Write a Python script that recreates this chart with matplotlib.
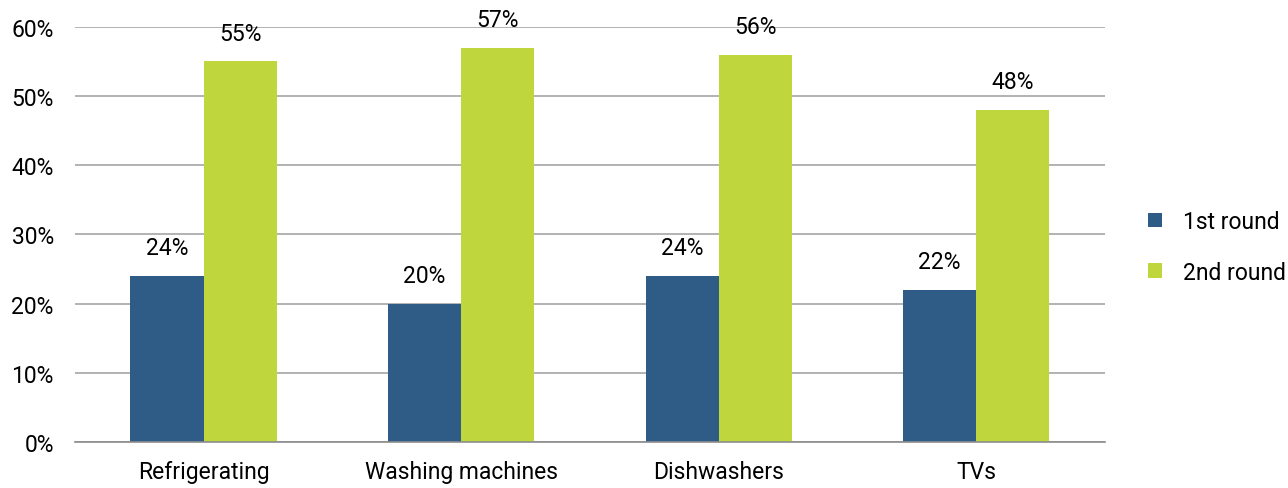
import numpy as np
import matplotlib.pyplot as plt
from matplotlib.ticker import FuncFormatter

categories = ['Refrigerating', 'Washing machines', 'Dishwashers', 'TVs']
first_round = [24, 20, 24, 22]
second_round = [55, 57, 56, 48]
series_names = ['1st round', '2nd round']

blue = '#2E5C87'
green = '#BFD63C'

plt.rcParams['font.family'] = ['Roboto', 'DejaVu Sans']

fig = plt.figure(figsize=(12.88, 4.89), dpi=100)
ax = fig.add_axes([0.058, 0.094, 0.8, 0.849])

x = np.arange(len(categories))
w = 0.284
b1 = ax.bar(x - w / 2, first_round, w, color=blue, label=series_names[0])
b2 = ax.bar(x + w / 2, second_round, w, color=green, label=series_names[1])

# valeurs au-dessus des barres
for bars, vals in [(b1, first_round), (b2, second_round)]:
    for r, v in zip(bars, vals):
        ax.annotate(str(v) + '%', (r.get_x() + r.get_width() / 2, v),
                    xytext=(0, 12), textcoords='offset points',
                    ha='center', va='bottom', fontsize=16.5)

ax.set_xlim(-0.5, len(categories) - 0.5)
ax.set_ylim(0, 60)
ax.set_yticks(np.arange(0, 61, 10))
ax.yaxis.set_major_formatter(FuncFormatter(lambda v, p: '%d%%' % v))
ax.set_xticks(x)
ax.set_xticklabels(categories)
ax.tick_params(axis='both', length=0, labelsize=16.5)
ax.tick_params(axis='x', pad=13)
ax.tick_params(axis='y', pad=15)

ax.grid(axis='y', color='#A6A6A6', linewidth=1.2)
ax.set_axisbelow(True)
for s in ['top', 'right', 'left']:
    ax.spines[s].set_visible(False)
ax.spines['bottom'].set_color('#8C8C8C')
ax.spines['bottom'].set_linewidth(1.2)

ax.legend(loc='center left', bbox_to_anchor=(1.022, 0.47), frameon=False,
          fontsize=16.5, handlelength=0.6, handleheight=0.6, labelspacing=1.2,
          handletextpad=0.9)

plt.savefig('out.png', dpi=100)
